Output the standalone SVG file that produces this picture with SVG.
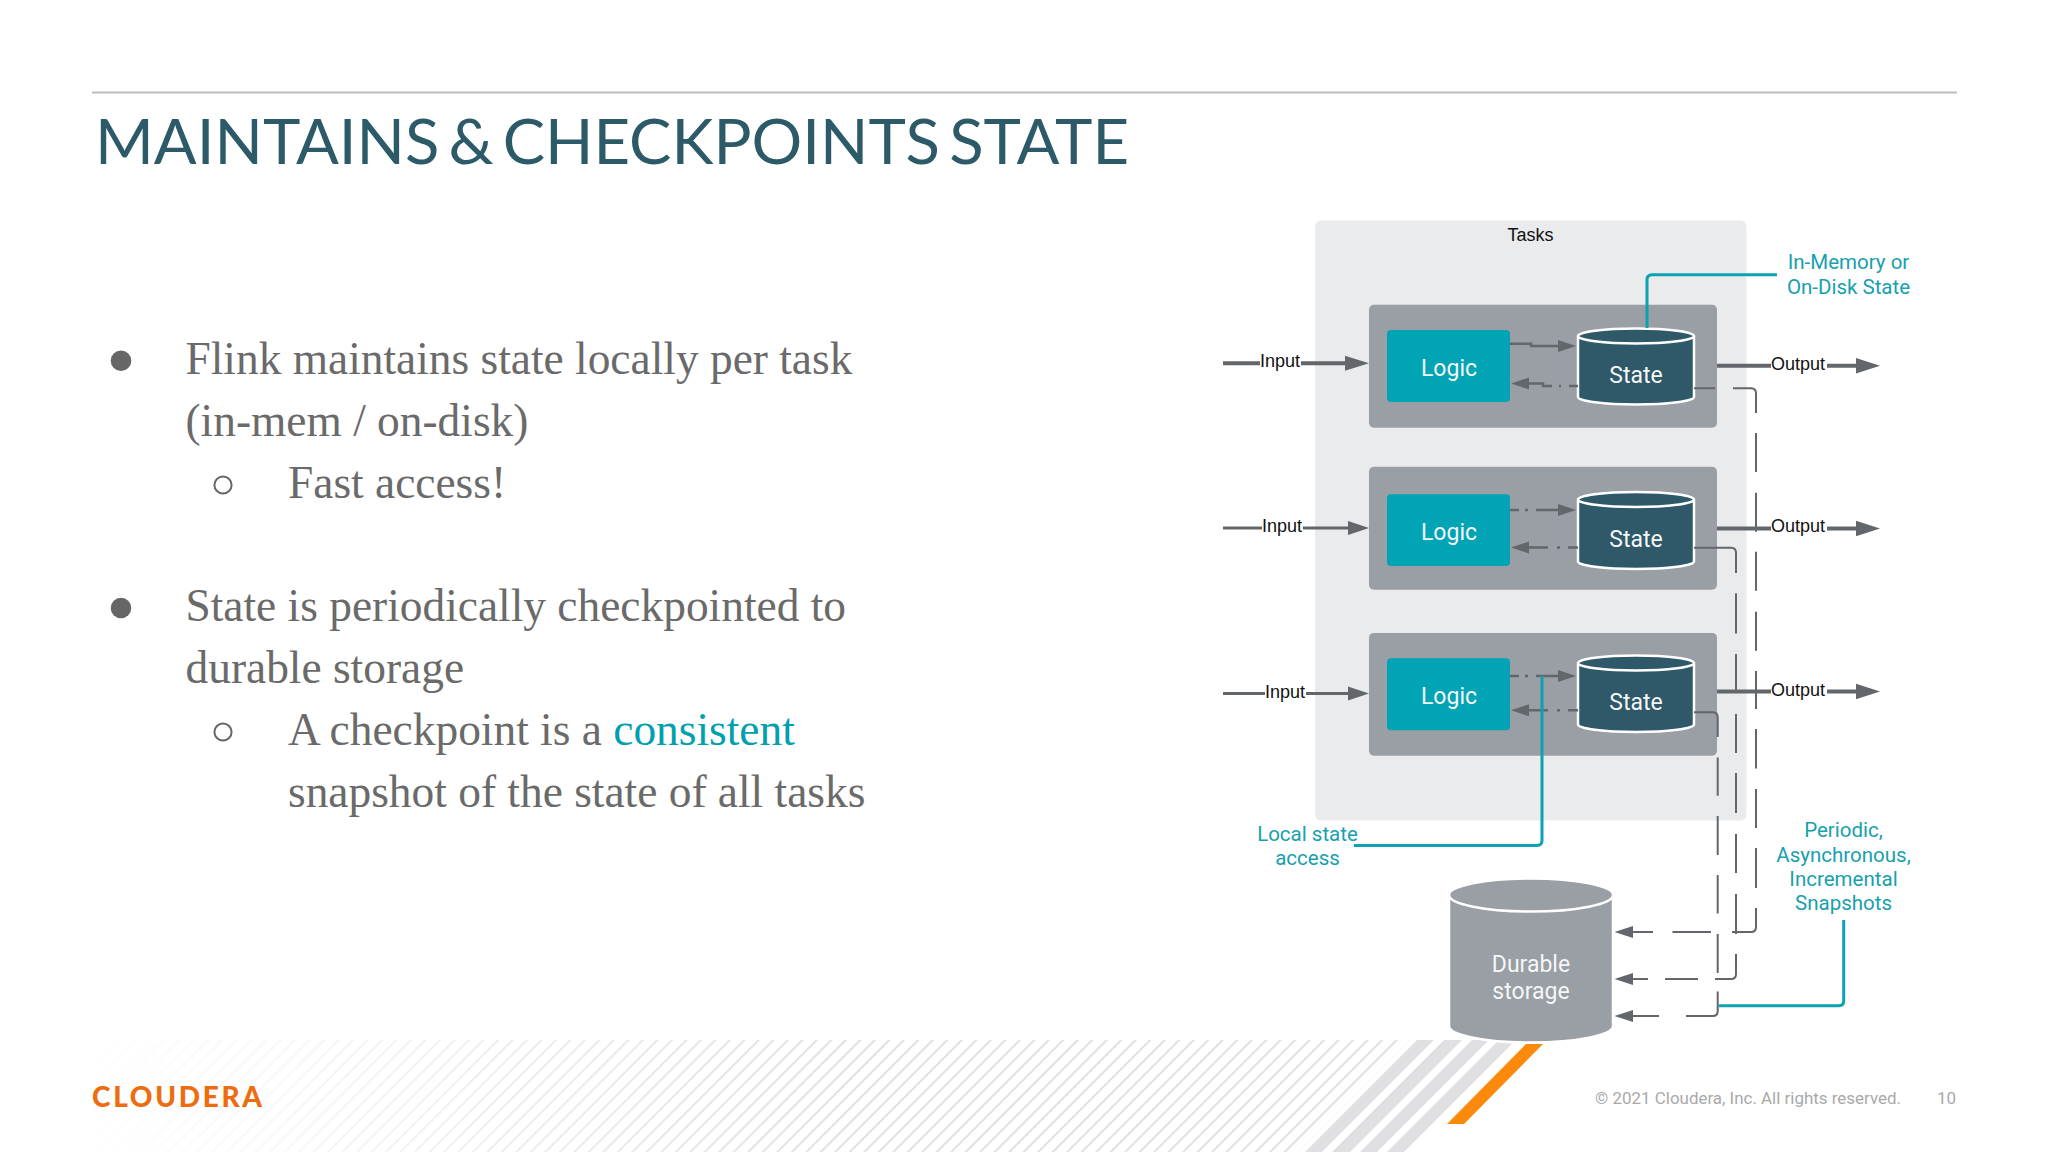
<svg xmlns="http://www.w3.org/2000/svg" width="2048" height="1152" viewBox="0 0 2048 1152">
<style>
.body{font-family:"Liberation Serif",serif;font-size:45.4px;fill:#6a6a6a}
.ro{font-family:Roboto,sans-serif}
.ar{font-family:"Liberation Sans",Arial,sans-serif;font-size:18px;fill:#111}
.node{font-family:Roboto,sans-serif;font-size:23px;fill:#f4f6f7;text-anchor:middle}
.tl{font-family:Roboto,sans-serif;font-size:20.5px;fill:#17a0ae;text-anchor:middle}
.box{fill:#9a9ea5}
.logic{fill:#00a4b5}
.state{fill:#2f5869;stroke:#fff;stroke-width:2.5}
.line{fill:none;stroke:#63666b}
.dash{fill:none;stroke:#63666b;stroke-width:2}
.teal{fill:none;stroke:#0ca2b2;stroke-width:3}
.head{fill:#63666b}
</style>
<defs>
<pattern id="thin" width="10.25" height="20" patternUnits="userSpaceOnUse" patternTransform="rotate(45)"><rect width="2" height="20" fill="#e0e0e3"/></pattern>
<linearGradient id="fade" gradientUnits="userSpaceOnUse" x1="0" x2="1000" y1="0" y2="0"><stop offset="0.08" stop-color="#fff"/><stop offset="0.3" stop-color="#fff" stop-opacity="0.72"/><stop offset="0.85" stop-color="#fff" stop-opacity="0"/></linearGradient>
</defs>
<rect width="2048" height="1152" fill="#fff"/>
<g id="footer-stripes">
<path d="M0 1040H1410L1298 1152H0Z" fill="url(#thin)"/>
<rect x="0" y="1040" width="1420" height="112" fill="url(#fade)"/>
<path d="M1417 1040H1434L1322 1152H1305ZM1444 1040H1462L1350 1152H1332ZM1472 1040H1489L1377 1152H1360ZM1499 1040H1516L1404 1152H1387Z" fill="#e0e0e2"/>
<path d="M1526 1044H1543L1464 1124H1447Z" fill="#fb8a0c"/>
</g>
<rect x="92" y="91.500" width="1865" height="2" fill="#bdbdbd"/>
<text x="95" y="164" font-family="Lato,sans-serif" font-size="62.500" word-spacing="-7" fill="#2d5a68" textLength="1034" lengthAdjust="spacingAndGlyphs">MAINTAINS &amp; CHECKPOINTS STATE</text>
<g id="bullets">
<text class="body" x="185.500" y="374">Flink maintains state locally per task</text>
<text class="body" x="185.500" y="436">(in-mem / on-disk)</text>
<text class="body" x="288" y="498">Fast access!</text>
<text class="body" x="185.500" y="621">State is periodically checkpointed to</text>
<text class="body" x="185.500" y="683">durable storage</text>
<text class="body" x="288" y="745">A checkpoint is a <tspan fill="#00a0ae">consistent</tspan></text>
<text class="body" x="288" y="807">snapshot of the state of all tasks</text>
<circle cx="121" cy="360.700" r="10.300" fill="#666"/>
<circle cx="223" cy="485" r="8.600" fill="none" stroke="#666" stroke-width="2"/>
<circle cx="121" cy="608" r="10.300" fill="#666"/>
<circle cx="223" cy="732" r="8.600" fill="none" stroke="#666" stroke-width="2"/>
</g>
<g id="tasks">
<rect x="1315" y="220.500" width="431.500" height="600" rx="6" fill="#e9ebed"/>
<text class="ar" x="1530.500" y="241" text-anchor="middle">Tasks</text>
</g>
<g id="task1">
<rect class="box" x="1369" y="304.700" width="348" height="123" rx="5"/>
<g id="logic1"><rect class="logic" x="1387" y="330" width="123" height="72" rx="4"/><text class="node" x="1449" y="376">Logic</text></g>
<g id="state1"><path class="state" d="M1578 336v61a58 7.500 0 0 0 116 0v-61a58 7.500 0 0 0-116 0a58 7.500 0 0 0 116 0"/><text class="node" x="1636" y="382.500">State</text></g>
</g>
<g id="task2">
<rect class="box" x="1369" y="466.700" width="348" height="123" rx="5"/>
<g id="logic2"><rect class="logic" x="1387" y="494.300" width="123" height="71.700" rx="4"/><text class="node" x="1449" y="540">Logic</text></g>
<g id="state2"><path class="state" d="M1578 499.500v62a58 7.500 0 0 0 116 0v-62a58 7.500 0 0 0-116 0a58 7.500 0 0 0 116 0"/><text class="node" x="1636" y="547">State</text></g>
</g>
<g id="task3">
<rect class="box" x="1369" y="632.900" width="348" height="122.800" rx="5"/>
<g id="logic3"><rect class="logic" x="1387" y="658.300" width="123" height="72" rx="4"/><text class="node" x="1449" y="704">Logic</text></g>
<g id="state3"><path class="state" d="M1578 663v61.500a58 7.500 0 0 0 116 0v-61.500a58 7.500 0 0 0-116 0a58 7.500 0 0 0 116 0"/><text class="node" x="1636" y="710">State</text></g>
</g>
<g id="durable">
<path d="M1449 895v131a82 16.500 0 0 0 164 0v-131a82 16.500 0 0 0-164 0a82 16.500 0 0 0 164 0" fill="#9a9ea5" stroke="#fff" stroke-width="2.500"/>
<text class="node" x="1531" y="972">Durable</text>
<text class="node" x="1531" y="999">storage</text>
</g>
<g id="connectors">
<path class="line" stroke-width="4" d="M1223 363.300H1260M1301 363.300H1348"/><path class="head" d="M1345 355.800L1369 363.300L1345 370.800Z"/>
<path class="line" stroke-width="3" d="M1223 528H1262M1303 528H1350"/><path class="head" d="M1348 521L1369 528L1348 535Z"/>
<path class="line" stroke-width="3" d="M1223 693.600H1265M1306 693.600H1350"/><path class="head" d="M1348 686.600L1369 693.600L1348 700.600Z"/>
<path class="line" stroke-width="4" d="M1717 365.700H1771M1827 365.700H1858"/><path class="head" d="M1856 358L1880 365.700L1856 373.400Z"/>
<path class="line" stroke-width="4" d="M1717 528.500H1771M1827 528.500H1858"/><path class="head" d="M1856 520.800L1880 528.500L1856 536.200Z"/>
<path class="line" stroke-width="4" d="M1717 691.500H1771M1827 691.500H1858"/><path class="head" d="M1856 683.800L1880 691.500L1856 699.200Z"/>
<path class="line" stroke-width="2.500" d="M1510 343.700H1531V346H1560"/><path class="head" d="M1558 340L1576 346L1558 352Z"/>
<path class="line" stroke-width="2.500" d="M1527 383.500H1543V386H1552M1559 386H1561M1569 386H1578"/><path class="head" d="M1529 377.500L1511 383.500L1529 389.500Z"/>
<path class="line" stroke-width="2.500" d="M1510 510H1519M1525 510H1528M1536 510H1560"/><path class="head" d="M1558 504L1576 510L1558 516Z"/>
<path class="line" stroke-width="2.500" d="M1527 547.500H1548M1557 547.500H1560M1568 547.500H1578"/><path class="head" d="M1529 541.500L1511 547.500L1529 553.500Z"/>
<path class="line" stroke-width="2.500" d="M1510 676H1519M1525 676H1528M1536 676H1560"/><path class="head" d="M1558 670L1576 676L1558 682Z"/>
<path class="line" stroke-width="2.500" d="M1527 710.300H1548M1557 710.300H1560M1568 710.300H1578"/><path class="head" d="M1529 704.300L1511 710.300L1529 716.300Z"/>
<path class="dash" d="M1694 388.300H1715M1733 388.300H1751Q1756 388.300 1756 393.300V413M1756 433V472M1756 492.700V531.700M1756 551.700V590.700M1756 611.700V650.700M1756 671V709M1756 729V768.600M1756 789V828M1756 848V888M1756 908V927Q1756 932 1751 932H1732M1711 932H1672.500M1653 932H1632"/>
<path class="head" d="M1633 926L1614.500 932L1633 938Z"/>
<path class="dash" d="M1694 547.700H1731Q1736 547.700 1736 552.700V573M1736 593.300V633.600M1736 654V693M1736 714V753M1736 773V813M1736 834V873M1736 894V934M1736 954V974Q1736 979 1731 979H1715M1698 979H1665M1648 979H1632"/>
<path class="head" d="M1633 973L1614.500 979L1633 985Z"/>
<path class="dash" d="M1694 712.300H1712.700Q1717.700 712.300 1717.700 717.300V737M1717.700 757.400V795.800M1717.700 816V855M1717.700 875V913.500M1717.700 934V973M1717.700 991.600V1011Q1717.700 1016 1712.700 1016H1686M1659 1016H1632"/>
<path class="head" d="M1633 1010L1614.500 1016L1633 1022Z"/>
<path class="teal" d="M1777 274.700H1652Q1647 274.700 1647 279.700V328"/>
<path class="teal" d="M1354 845.600H1537Q1542 845.600 1542 840.600V676"/>
<path class="teal" d="M1843.700 920V1000.800Q1843.700 1005.800 1838.700 1005.800H1718.700"/>
<text class="ar" x="1260" y="367">Input</text>
<text class="ar" x="1262" y="532">Input</text>
<text class="ar" x="1265" y="698">Input</text>
<text class="ar" x="1771" y="369.500">Output</text>
<text class="ar" x="1771" y="532">Output</text>
<text class="ar" x="1771" y="695.500">Output</text>
</g>
<g id="labels">
<text class="tl" x="1848.500" y="269">In-Memory or</text>
<text class="tl" x="1848.500" y="293.500">On-Disk State</text>
<text class="tl" x="1307.500" y="841">Local state</text>
<text class="tl" x="1307.500" y="865">access</text>
<text class="tl" x="1843.500" y="837">Periodic,</text>
<text class="tl" x="1843.500" y="861.500">Asynchronous,</text>
<text class="tl" x="1843.500" y="885.500">Incremental</text>
<text class="tl" x="1843.500" y="909.500">Snapshots</text>
</g>
<g id="footer">
<text x="92" y="1107" font-family="Lato,sans-serif" font-weight="900" font-size="28" fill="#ef6c0e" textLength="170" lengthAdjust="spacing">CLOUDERA</text>
<text class="ro" x="1595" y="1104" font-size="17" fill="#a9a9ab" textLength="306" lengthAdjust="spacingAndGlyphs">© 2021 Cloudera, Inc. All rights reserved.</text>
<text class="ro" x="1937" y="1104" font-size="17" fill="#a9a9ab">10</text>
</g>
</svg>
